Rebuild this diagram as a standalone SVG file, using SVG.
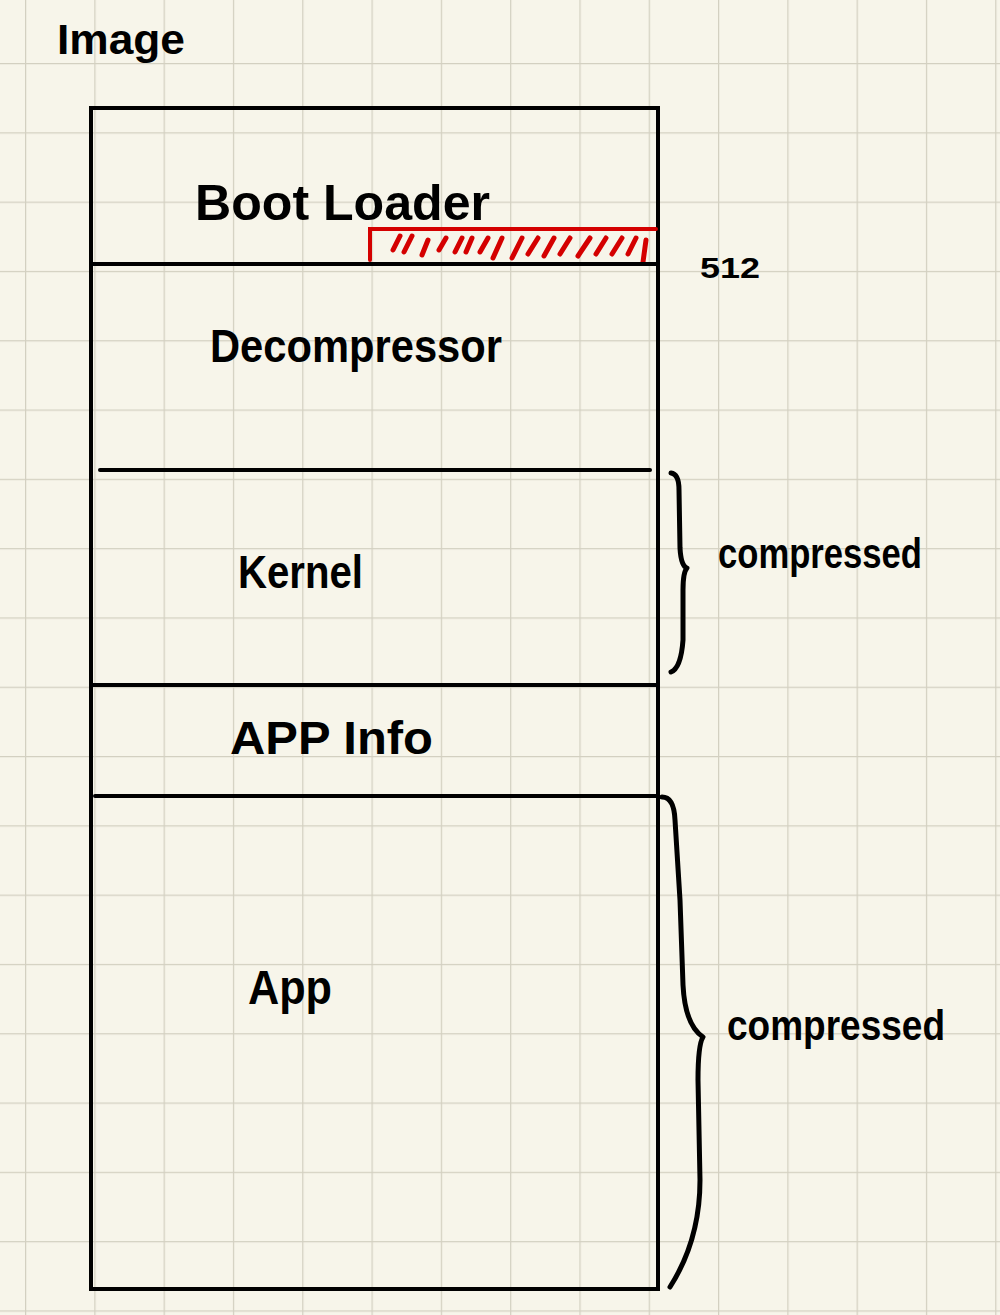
<svg xmlns="http://www.w3.org/2000/svg" width="1000" height="1315" viewBox="0 0 1000 1315">
<defs>
<pattern id="grid" x="25" y="63" width="69.3" height="69.3" patternUnits="userSpaceOnUse">
<path d="M0 0 H69.3 M0 0 V69.3" fill="none" stroke="#d3d0c1" stroke-width="2.5"/>
</pattern>
<style>
.ln{stroke:#000;stroke-width:4;fill:none;stroke-linecap:round}
.br{stroke:#000;stroke-width:5;fill:none;stroke-linecap:round;stroke-linejoin:round}
.rd{stroke:#d40000;stroke-width:4;fill:none;stroke-linecap:round}
.hx{stroke:#d40000;stroke-width:5;fill:none;stroke-linecap:round}
.t{font-family:"Liberation Sans",Arial,sans-serif;font-weight:bold;fill:#000}
</style>
</defs>
<rect width="1000" height="1315" fill="#f7f5ea"/>
<rect width="1000" height="1315" fill="url(#grid)"/>
<text class="t" x="57" y="54" font-size="42" textLength="128" lengthAdjust="spacingAndGlyphs">Image</text>
<g id="image-box">
<rect x="91" y="108" width="567" height="1181" class="ln"/>
</g>
<g id="boot-loader">
<text class="t" x="195" y="220" font-size="50" textLength="295" lengthAdjust="spacingAndGlyphs">Boot  Loader</text>
<path class="rd" d="M370 260 V229 H656"/>
<path class="hx" d="M393 250 L400 236 M404 252 L412 236 M422 255 L428 240 M439 250 L446 238 M455 252 L462 238 M466 252 L472 238 M480 252 L488 238 M493 258 L502 238 M512 258 L522 238 M528 254 L538 238 M544 256 L554 238 M560 254 L570 238 M578 256 L590 238 M596 254 L606 238 M612 254 L622 238 M628 254 L636 238 M643 262 L646 240"/>
<line class="ln" x1="91" y1="264" x2="658" y2="264"/>
<text class="t" x="700" y="278" font-size="30" textLength="60" lengthAdjust="spacingAndGlyphs">512</text>
</g>
<g id="decompressor">
<text class="t" x="210" y="362" font-size="46" textLength="292" lengthAdjust="spacingAndGlyphs">Decompressor</text>
<line class="ln" x1="100" y1="470" x2="650" y2="470"/>
</g>
<g id="kernel">
<text class="t" x="238" y="588" font-size="46" textLength="125" lengthAdjust="spacingAndGlyphs">Kernel</text>
<line class="ln" x1="93" y1="685" x2="656" y2="685"/>
</g>
<g id="app-info">
<text class="t" x="230" y="754" font-size="46" textLength="203" lengthAdjust="spacingAndGlyphs">APP  Info</text>
<line class="ln" x1="95" y1="796" x2="658" y2="796"/>
</g>
<g id="app">
<text class="t" x="248" y="1004" font-size="48" textLength="84" lengthAdjust="spacingAndGlyphs">App</text>
</g>
<g id="connectors">
<path class="br" d="M671 473 Q679 474 679 490 L680 548 Q681 566 687 568 Q683 572 683 590 L683 640 Q681 668 671 672"/>
<path class="br" d="M662 797 Q674 797 675 820 L680 900 L683 985 Q685 1025 703 1037 Q698 1045 698 1080 L700 1180 Q700 1240 670 1287"/>
</g>
<text class="t" x="718" y="568" font-size="42" textLength="204" lengthAdjust="spacingAndGlyphs">compressed</text>
<text class="t" x="727" y="1040" font-size="42" textLength="218" lengthAdjust="spacingAndGlyphs">compressed</text>
</svg>
